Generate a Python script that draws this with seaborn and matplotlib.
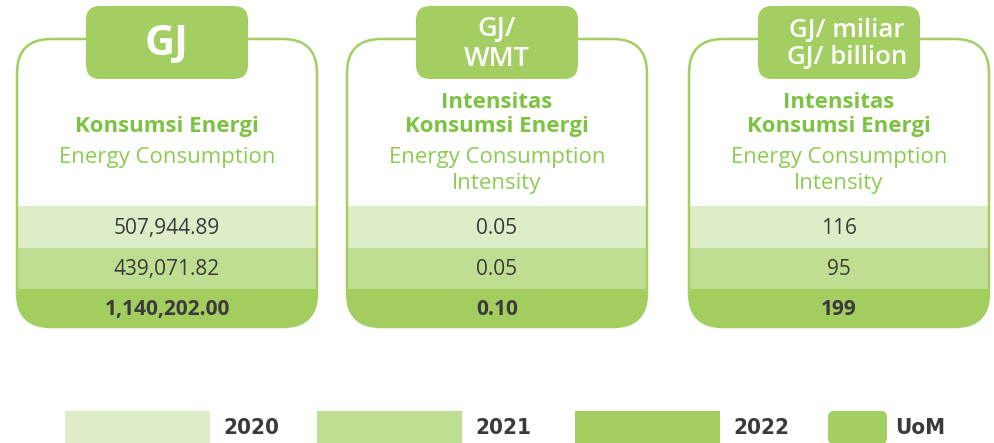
import numpy as np
import pandas as pd
import matplotlib.pyplot as plt
import seaborn as sns
from matplotlib.patches import FancyBboxPatch, Rectangle

sns.set_theme(style="white")
plt.rcParams['font.family'] = ['Open Sans', 'DejaVu Sans']

# data
uom = ["GJ", "GJ/\nWMT", "GJ/ miliar\nGJ/ billion"]
titles_id = [["Konsumsi Energi"], ["Intensitas", "Konsumsi Energi"], ["Intensitas", "Konsumsi Energi"]]
titles_en = [["Energy Consumption"], ["Energy Consumption", "Intensity"], ["Energy Consumption", "Intensity"]]
years = ["2020", "2021", "2022"]
values_2020 = [507944.89, 0.05, 116]
values_2021 = [439071.82, 0.05, 95]
values_2022 = [1140202.00, 0.10, 199]
fmts = ["{:,.2f}", "{:.2f}", "{:.0f}"]
year_colors = ["#DDEDC8", "#BFDE92", "#A3CE5F"]
uom_color = "#A3CE62"
title_green = "#7DC242"
en_green = "#8DCB53"
text_dark = "#3A3A3A"

df = pd.DataFrame({"2020": values_2020, "2021": values_2021, "2022": values_2022})

fig = plt.figure(figsize=(9.95, 4.43), dpi=100)
ax = fig.add_axes([0, 0, 1, 1])
ax.set_xlim(0, 995)
ax.set_ylim(443, 0)
ax.axis('off')

card_left = [17, 347, 689]
card_w = 300
card_top = 39
card_bot = 327
row_top = 206
row_h = [42, 41, 39]
tab_off = 69
tab_w = 162

for i in range(3):
    x0 = card_left[i]
    cx = x0 + card_w / 2
    card = FancyBboxPatch((x0 + 34, card_top + 34), card_w - 68, card_bot - card_top - 68,
                          boxstyle="round,pad=34", fc="white", ec="none", zorder=1)
    ax.add_patch(card)
    # year rows clipped to the rounded card
    y = row_top
    for j, yr in enumerate(years):
        r = Rectangle((x0 - 2, y), card_w + 4, row_h[j], fc=year_colors[j], ec="none", zorder=2)
        ax.add_patch(r)
        r.set_clip_path(card)
        ax.text(cx, y + row_h[j] / 2 + 1, fmts[i].format(df.loc[i, yr]), ha='center', va='center',
                fontsize=15, color=text_dark, fontweight='bold' if j == 2 else 'normal', zorder=4)
        y += row_h[j]
    border = FancyBboxPatch((x0 + 34, card_top + 34), card_w - 68, card_bot - card_top - 68,
                            boxstyle="round,pad=34", fc="none", ec=uom_color, lw=1.8, zorder=3)
    ax.add_patch(border)
    # unit tab
    tab = FancyBboxPatch((x0 + tab_off + 14, 6 + 14), tab_w - 28, 73 - 28,
                         boxstyle="round,pad=14", fc=uom_color, ec="none", zorder=5)
    ax.add_patch(tab)
    tab_fs = [30, 19.5, 18.5][i]
    tx = cx + (8 if i == 2 else 0)
    ax.text(tx, 44, uom[i], ha='center', va='center', color='white', fontsize=tab_fs,
            fontweight='bold' if i == 0 else 'semibold', linespacing=1.12, zorder=6)
    # titles
    n = len(titles_id[i])
    for k, line in enumerate(titles_id[i]):
        ax.text(cx, 126 - 24 * (n - 1 - k), line, ha='center', va='center', color=title_green,
                fontsize=16, fontweight='bold', zorder=4)
    for k, line in enumerate(titles_en[i]):
        ax.text(cx, 157 + 27 * k, line, ha='center', va='center', color=en_green,
                fontsize=16, zorder=4)

# legend
leg_x = [65, 317, 575]
for j, yr in enumerate(years):
    ax.add_patch(Rectangle((leg_x[j], 411), 145, 33, fc=year_colors[j], ec="none"))
    ax.text(leg_x[j] + 158, 428, yr, ha='left', va='center', fontsize=16, fontweight='bold',
            color=text_dark, family='DejaVu Sans', fontstretch='condensed')
ax.add_patch(FancyBboxPatch((834, 417), 47, 21, boxstyle="round,pad=6", fc=uom_color, ec="none"))
ax.text(895, 428, "UoM", ha='left', va='center', fontsize=16, fontweight='bold',
        color=text_dark, family='DejaVu Sans', fontstretch='condensed')

fig.savefig("out.png", dpi=100)
